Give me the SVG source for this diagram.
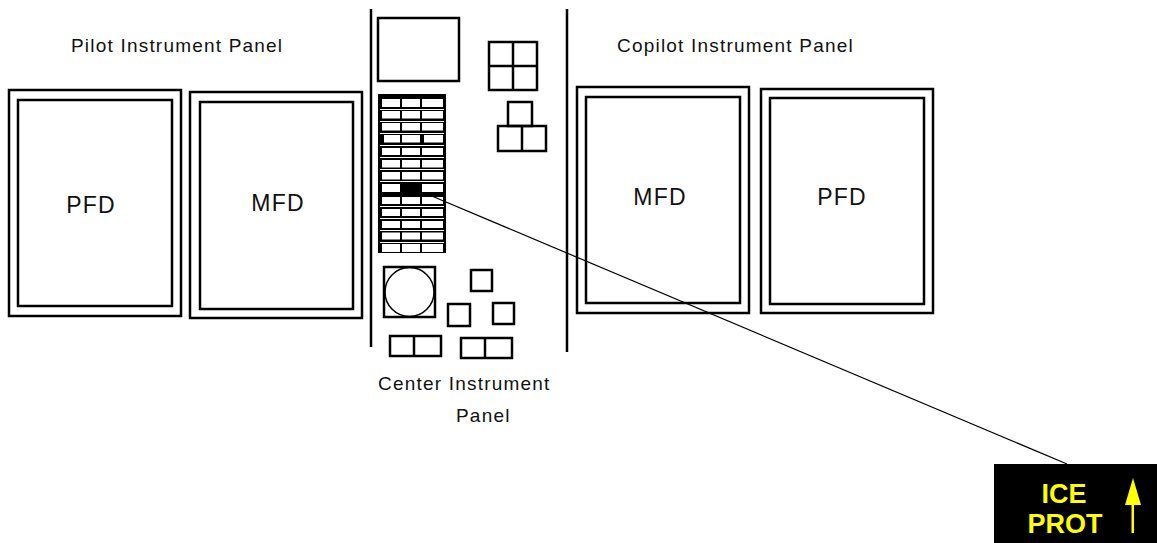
<svg xmlns="http://www.w3.org/2000/svg" width="1157" height="543" viewBox="0 0 1157 543">
<style>
.fr{fill:none;stroke:#000;stroke-width:2.5}
.ln{fill:none;stroke:#000;stroke-width:2.5}
.lbl{font-family:"Liberation Sans",Arial,sans-serif;font-size:19px;letter-spacing:1.2px;fill:#111}
.dl{font-family:"Liberation Sans",Arial,sans-serif;font-size:23px;letter-spacing:1.2px;fill:#111;text-anchor:middle}
.cell{fill:#fff}
.ice{font-family:"Liberation Sans",Arial,sans-serif;font-size:27px;font-weight:bold;fill:#ffff00;text-anchor:middle}
</style>
<rect width="1157" height="543" fill="#fff"/>

<g id="labels">
<text class="lbl" x="71" y="52">Pilot Instrument Panel</text>
<text class="lbl" x="617" y="52">Copilot Instrument Panel</text>
<text class="lbl" x="378" y="390">Center Instrument</text>
<text class="lbl" x="456" y="422">Panel</text>
</g>

<g id="pilot-pfd">
<rect class="fr" x="9" y="90" width="172" height="226"/>
<rect class="fr" x="18" y="100" width="154" height="206"/>
<text class="dl" x="91" y="213">PFD</text>
</g>
<g id="pilot-mfd">
<rect class="fr" x="190" y="92" width="172" height="226"/>
<rect class="fr" x="200" y="102" width="153" height="207"/>
<text class="dl" x="278" y="211">MFD</text>
</g>
<g id="copilot-mfd">
<rect class="fr" x="577" y="87" width="172" height="226"/>
<rect class="fr" x="586" y="97" width="154" height="206"/>
<text class="dl" x="660" y="205">MFD</text>
</g>
<g id="copilot-pfd">
<rect class="fr" x="761" y="89" width="172" height="224"/>
<rect class="fr" x="770" y="98" width="154" height="206"/>
<text class="dl" x="842" y="205">PFD</text>
</g>

<g id="center-panel">
<line class="ln" x1="371" y1="9" x2="371" y2="347"/>
<line class="ln" x1="567" y1="9" x2="567" y2="352"/>
<rect class="fr" x="378" y="18" width="81" height="63"/>
<rect class="fr" x="489" y="42" width="48" height="48"/>
<line class="ln" x1="513" y1="42" x2="513" y2="90"/>
<line class="ln" x1="489" y1="66" x2="537" y2="66"/>
<rect class="fr" x="508" y="102" width="24" height="24"/>
<rect class="fr" x="498" y="126" width="48" height="25"/>
<line class="ln" x1="522" y1="126" x2="522" y2="152"/>

<g id="switch-grid">
<rect x="378" y="94" width="68" height="159" fill="#000"/>
<g fill="#fff">
<rect x="380" y="109" width="64" height="1"/>
<rect x="380" y="121" width="64" height="1"/>
<rect x="380" y="133" width="64" height="1"/>
<rect x="380" y="145" width="64" height="1"/>
<rect x="380" y="157" width="64" height="1"/>
<rect x="380" y="169" width="64" height="1"/>
<rect x="380" y="181" width="64" height="1"/>
<rect x="380" y="206" width="64" height="1"/>
<rect x="380" y="218" width="64" height="1"/>
<rect x="380" y="230" width="64" height="1"/>
<rect x="380" y="242" width="64" height="1"/>
</g>
<g class="cell">
<rect x="382" y="99" width="18" height="8"/><rect x="402" y="99" width="18" height="8"/><rect x="422" y="99" width="21" height="8"/>
<rect x="382" y="111" width="18" height="7.5"/><rect x="402" y="111" width="18" height="7.5"/><rect x="422" y="111" width="21" height="7.5"/>
<rect x="382" y="123" width="18" height="7.5"/><rect x="402" y="123" width="18" height="7.5"/><rect x="422" y="123" width="21" height="7.5"/>
<rect x="384" y="135" width="16" height="7.5"/><rect x="402" y="135" width="18" height="7.5"/><rect x="424" y="135" width="19" height="7.5"/>
<rect x="382" y="148" width="18" height="7"/><rect x="402" y="148" width="18" height="7"/><rect x="422" y="148" width="21" height="7"/>
<rect x="382" y="160" width="18" height="7.5"/><rect x="402" y="160" width="18" height="7.5"/><rect x="422" y="160" width="21" height="7.5"/>
<rect x="382" y="172" width="18" height="7.5"/><rect x="402" y="172" width="18" height="7.5"/><rect x="422" y="172" width="21" height="7.5"/>
<rect x="382" y="184" width="18" height="8"/><rect x="422" y="184" width="21" height="8"/>
<rect x="382" y="197" width="18" height="7"/><rect x="402" y="197" width="18" height="7"/><rect x="422" y="197" width="21" height="7"/>
<rect x="382" y="209" width="18" height="7"/><rect x="402" y="209" width="18" height="7"/><rect x="422" y="209" width="21" height="7"/>
<rect x="382" y="221" width="18" height="7"/><rect x="402" y="221" width="18" height="7"/><rect x="422" y="221" width="21" height="7"/>
<rect x="382" y="232.5" width="18" height="7"/><rect x="402" y="232.5" width="18" height="7"/><rect x="422" y="232.5" width="21" height="7"/>
<rect x="382" y="244" width="18" height="8"/><rect x="402" y="244" width="18" height="8"/><rect x="422" y="244" width="21" height="8"/>
</g>
</g>

<rect class="fr" x="384" y="267" width="51" height="50"/>
<circle cx="409.5" cy="292" r="24.5" fill="none" stroke="#000" stroke-width="1.5"/>
<rect class="fr" x="471" y="270" width="21" height="21"/>
<rect class="fr" x="448" y="304" width="22" height="22"/>
<rect class="fr" x="493" y="303" width="21" height="21"/>
<rect class="fr" x="390" y="336" width="51" height="20"/>
<line class="ln" x1="414" y1="336" x2="414" y2="356"/>
<rect class="fr" x="461" y="338" width="51" height="20"/>
<line class="ln" x1="485" y1="338" x2="485" y2="358"/>
</g>

<g id="connectors">
<line x1="427" y1="194" x2="1067" y2="464" stroke="#000" stroke-width="1.2"/>
</g>

<g id="ice-prot">
<rect x="994" y="464" width="163" height="79" fill="#000"/>
<text class="ice" x="1064" y="503">ICE</text>
<text class="ice" x="1065" y="533">PROT</text>
<polygon points="1133,478 1125,505 1141,505" fill="#ffff00"/>
<rect x="1131.5" y="504" width="2.5" height="29" fill="#ffff00"/>
</g>
</svg>
